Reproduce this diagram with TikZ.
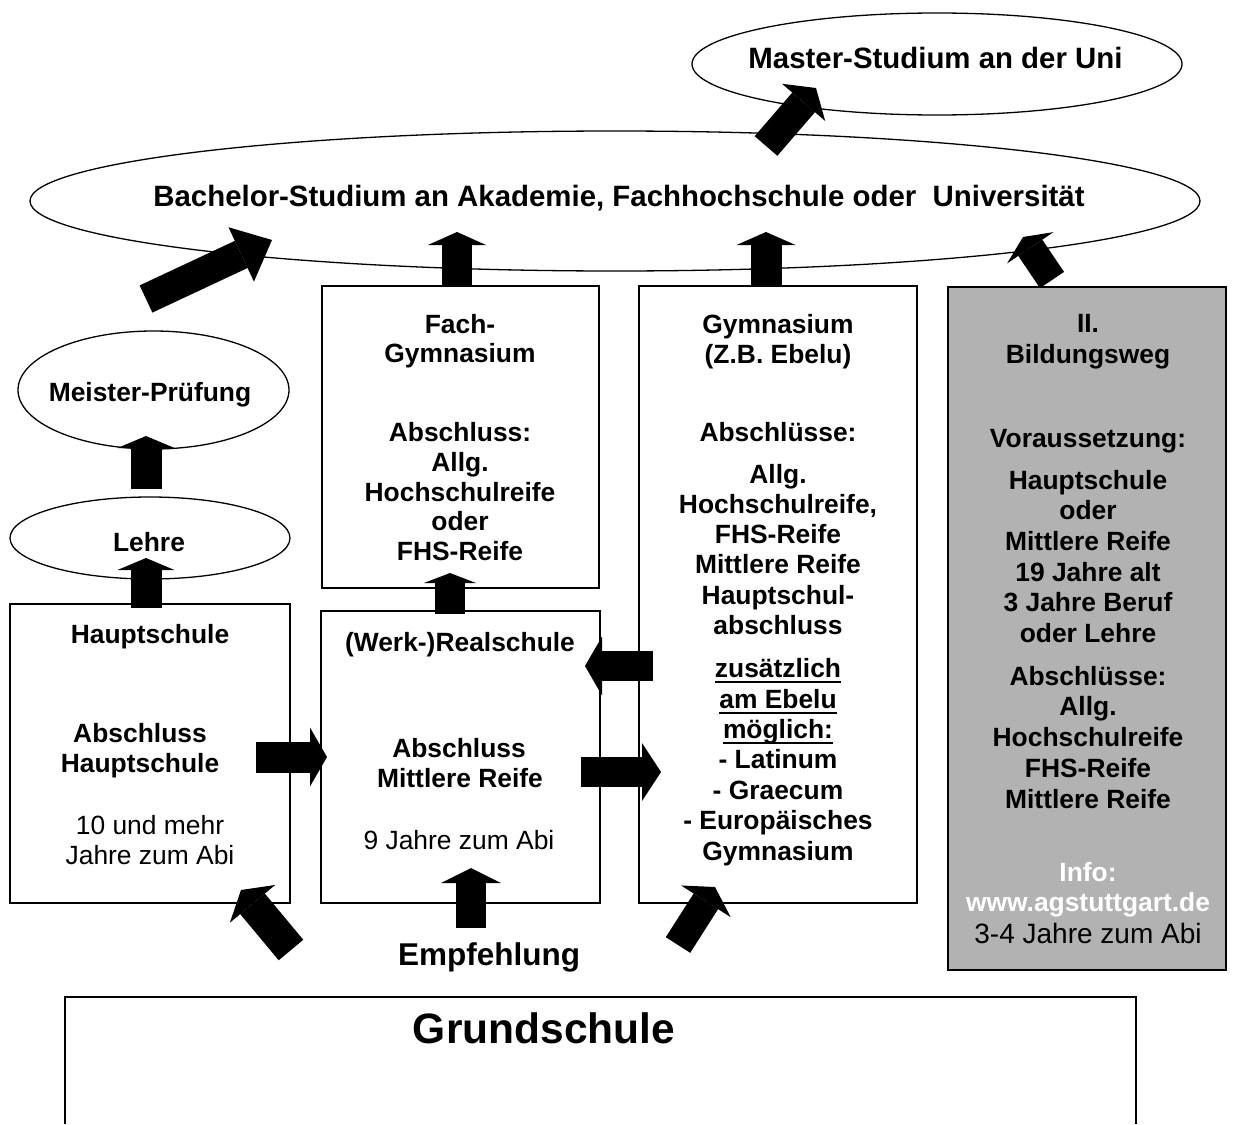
\documentclass[tikz,border=0pt]{standalone}
\usepackage{fontspec}
\setmainfont{Liberation Sans}
\usetikzlibrary{arrows.meta,shapes.geometric}
\begin{document}
\begin{tikzpicture}[x=1pt,y=-1pt,
  ell/.style={draw, ellipse, line width=1.3pt, inner sep=0pt},
  box/.style={draw, rectangle, line width=1.8pt, inner sep=0pt},
  hdr/.style={font=\bfseries\fontsize{29.4}{34}\selectfont, inner sep=0pt, anchor=base},
  bt/.style={font=\bfseries\fontsize{26.4}{30}\selectfont, inner sep=0pt, anchor=base},
  rt/.style={font=\fontsize{26.4}{30}\selectfont, inner sep=0pt, anchor=base},
  rtb/.style={font=\fontsize{28}{32}\selectfont, inner sep=0pt, anchor=base},
  wt/.style={bt, text=white},
  ulc/.style={line width=2pt},
  blk/.style n args={3}{line width=#1pt, -{Triangle[length=#3pt,width=#2pt,line width=0pt]}},
]
\useasboundingbox (0,0) rectangle (1233,1124);
\fill[white] (0,0) rectangle (1233,1124);

% ellipses
\node[ell, minimum width=490pt, minimum height=102pt] (master) at (937,64) {};
\node[hdr] (mastert) at (935.5,68.5) {Master-Studium an der Uni};
\node[ell, minimum width=1170pt, minimum height=140pt] (bachelor) at (615,201) {};
\node[hdr] (bachelort) at (619,206.5) {Bachelor-Studium an Akademie, Fachhochschule oder\ \ Universität};
\node[ell, minimum width=271pt, minimum height=118pt] (meister) at (153.5,390) {};
\node[bt] (meistert) at (150,401.5) {Meister-Prüfung};
\node[ell, minimum width=280pt, minimum height=82pt] (lehre) at (150,538) {};
\node[bt] (lehret) at (149,551.5) {Lehre};

% boxes
\node[box, minimum width=280pt, minimum height=299pt] (haupt) at (150,753.5) {};
\node[box, minimum width=279pt, minimum height=292pt] (real) at (460.5,757) {};
\node[box, minimum width=277pt, minimum height=302pt] (fachgym) at (460.5,437) {};
\node[box, minimum width=278pt, minimum height=617pt] (gym) at (778,594.5) {};
\node[box, fill=gray!60, minimum width=278pt, minimum height=683pt] (zweit) at (1087,628.5) {};
\node[minimum width=1071pt, minimum height=127pt, inner sep=0pt] (grund) at (600.5,1060.5) {};
\draw[line width=2.2pt] (grund.south west) -- (grund.north west) -- (grund.north east) -- (grund.south east);

% Hauptschule
\node[bt] (h1) at (150,643) {Hauptschule};
\node[bt] (h2) at (140,742) {Abschluss};
\node[bt] (h3) at (140,772.5) {Hauptschule};
\node[rt] (h4) at (150,834) {10 und mehr};
\node[rt] (h5) at (150,864) {Jahre zum Abi};

% Realschule
\node[bt] (r1) at (460,651.5) {(Werk-)Realschule};
\node[bt] (r2) at (459,757) {Abschluss};
\node[bt] (r3) at (460,787.5) {Mittlere Reife};
\node[rt] (r4) at (459,849) {9 Jahre zum Abi};

% Fach-Gymnasium
\node[bt] (f1) at (460,333) {Fach-};
\node[bt] (f2) at (460,362.5) {Gymnasium};
\node[bt] (f3) at (460,441.5) {Abschluss:};
\node[bt] (f4) at (460,471) {Allg.};
\node[bt] (f5) at (460,501) {Hochschulreife};
\node[bt] (f6) at (460,530.5) {oder};
\node[bt] (f7) at (460,560) {FHS-Reife};

% Gymnasium
\node[bt] (g1) at (778,333) {Gymnasium};
\node[bt] (g2) at (778,363) {(Z.B. Ebelu)};
\node[bt] (g3) at (778,441) {Abschlüsse:};
\node[bt] (g4) at (778,483.5) {Allg.};
\node[bt] (g5) at (778,513.5) {Hochschulreife,};
\node[bt] (g6) at (778,543) {FHS-Reife};
\node[bt] (g7) at (778,573.5) {Mittlere Reife};
\node[bt] (g8) at (778,604) {Hauptschul-};
\node[bt] (g9) at (778,634.5) {abschluss};
\node[bt] (g10) at (778,677) {zusätzlich};
\node[bt] (g11) at (778,708) {am Ebelu};
\node[bt] (g12) at (778,738) {möglich:};
\node[bt] (g13) at (778,768) {- Latinum};
\node[bt] (g14) at (778,799) {- Graecum};
\node[bt] (g15) at (778,829.5) {- Europäisches};
\node[bt] (g16) at (778,860) {Gymnasium};
\foreach \u in {g10,g11,g12}
  \draw[ulc] ([yshift=-5pt]\u.base west) -- ([yshift=-5pt]\u.base east);

% II. Bildungsweg
\node[bt] (z1) at (1088,332.5) {II.};
\node[bt] (z2) at (1088,363.5) {Bildungsweg};
\node[bt] (z3) at (1088,447.5) {Voraussetzung:};
\node[bt] (z4) at (1088,489.5) {Hauptschule};
\node[bt] (z5) at (1088,519.5) {oder};
\node[bt] (z6) at (1088,550.5) {Mittlere Reife};
\node[bt] (z7) at (1088,581.5) {19 Jahre alt};
\node[bt] (z8) at (1088,611.5) {3 Jahre Beruf};
\node[bt] (z9) at (1088,642.5) {oder Lehre};
\node[bt] (z10) at (1088,685.5) {Abschlüsse:};
\node[bt] (z11) at (1088,715.5) {Allg.};
\node[bt] (z12) at (1088,746.5) {Hochschulreife};
\node[bt] (z13) at (1088,777.5) {FHS-Reife};
\node[bt] (z14) at (1088,808.5) {Mittlere Reife};
\node[wt] (z15) at (1088,881.5) {Info:};
\node[wt] (z16) at (1088,911.5) {www.agstuttgart.de};
\node[rtb] (z17) at (1088,943) {3-4 Jahre zum Abi};

% bottom texts
\node[font=\bfseries\fontsize{31.5}{36}\selectfont, inner sep=0pt, anchor=base] (empf) at (489,965) {Empfehlung};
\node[font=\bfseries\fontsize{42.5}{48}\selectfont, inner sep=0pt, anchor=base] (grundt) at (544,1043) {Grundschule};

% arrow end points
\coordinate (a1s) at (766,146);  \coordinate (a1e) at (816,88);
\coordinate (a2s) at (146,299);  \coordinate (a2e) at (272,240);
\coordinate (a3s) at (457,286);  \coordinate (a3e) at (457,232);
\coordinate (a4s) at (766,286);  \coordinate (a4e) at (766,232);
\coordinate (a5s) at (1052,280); \coordinate (a5e) at (1023,237);
\coordinate (a6s) at (146,489);  \coordinate (a6e) at (146,436);
\coordinate (a7s) at (146,608);  \coordinate (a7e) at (146,558);
\coordinate (a8s) at (450,614);  \coordinate (a8e) at (450,573);
\coordinate (a9s) at (256,757);  \coordinate (a9e) at (327,757);
\coordinate (a10s) at (581,772); \coordinate (a10e) at (661,772);
\coordinate (a11s) at (653,666); \coordinate (a11e) at (585,666);
\coordinate (a12s) at (471,928); \coordinate (a12e) at (471,868);
\coordinate (a13s) at (291,950); \coordinate (a13e) at (241,890);
\coordinate (a14s) at (678,945); \coordinate (a14e) at (715,887);

% block arrows
\draw[blk={30}{57}{19}] (a1s) -- (a1e);
\draw[blk={30}{60}{34}] (a2s) -- (a2e);
\draw[blk={30}{58}{13}] (a3s) -- (a3e);
\draw[blk={31}{59}{13}] (a4s) -- (a4e);
\draw[blk={29}{56}{13}] (a5s) -- (a5e);
\draw[blk={31}{57}{12}] (a6s) -- (a6e);
\draw[blk={31}{57}{12}] (a7s) -- (a7e);
\draw[blk={30}{52}{10}] (a8s) -- (a8e);
\draw[blk={31}{59}{17}] (a9s) -- (a9e);
\draw[blk={30}{58}{19}] (a10s) -- (a10e);
\draw[blk={30}{59}{17}] (a11s) -- (a11e);
\draw[blk={30}{60}{15}] (a12s) -- (a12e);
\draw[blk={32}{59}{18}] (a13s) -- (a13e);
\draw[blk={29}{59}{17}] (a14s) -- (a14e);
\end{tikzpicture}
\end{document}
